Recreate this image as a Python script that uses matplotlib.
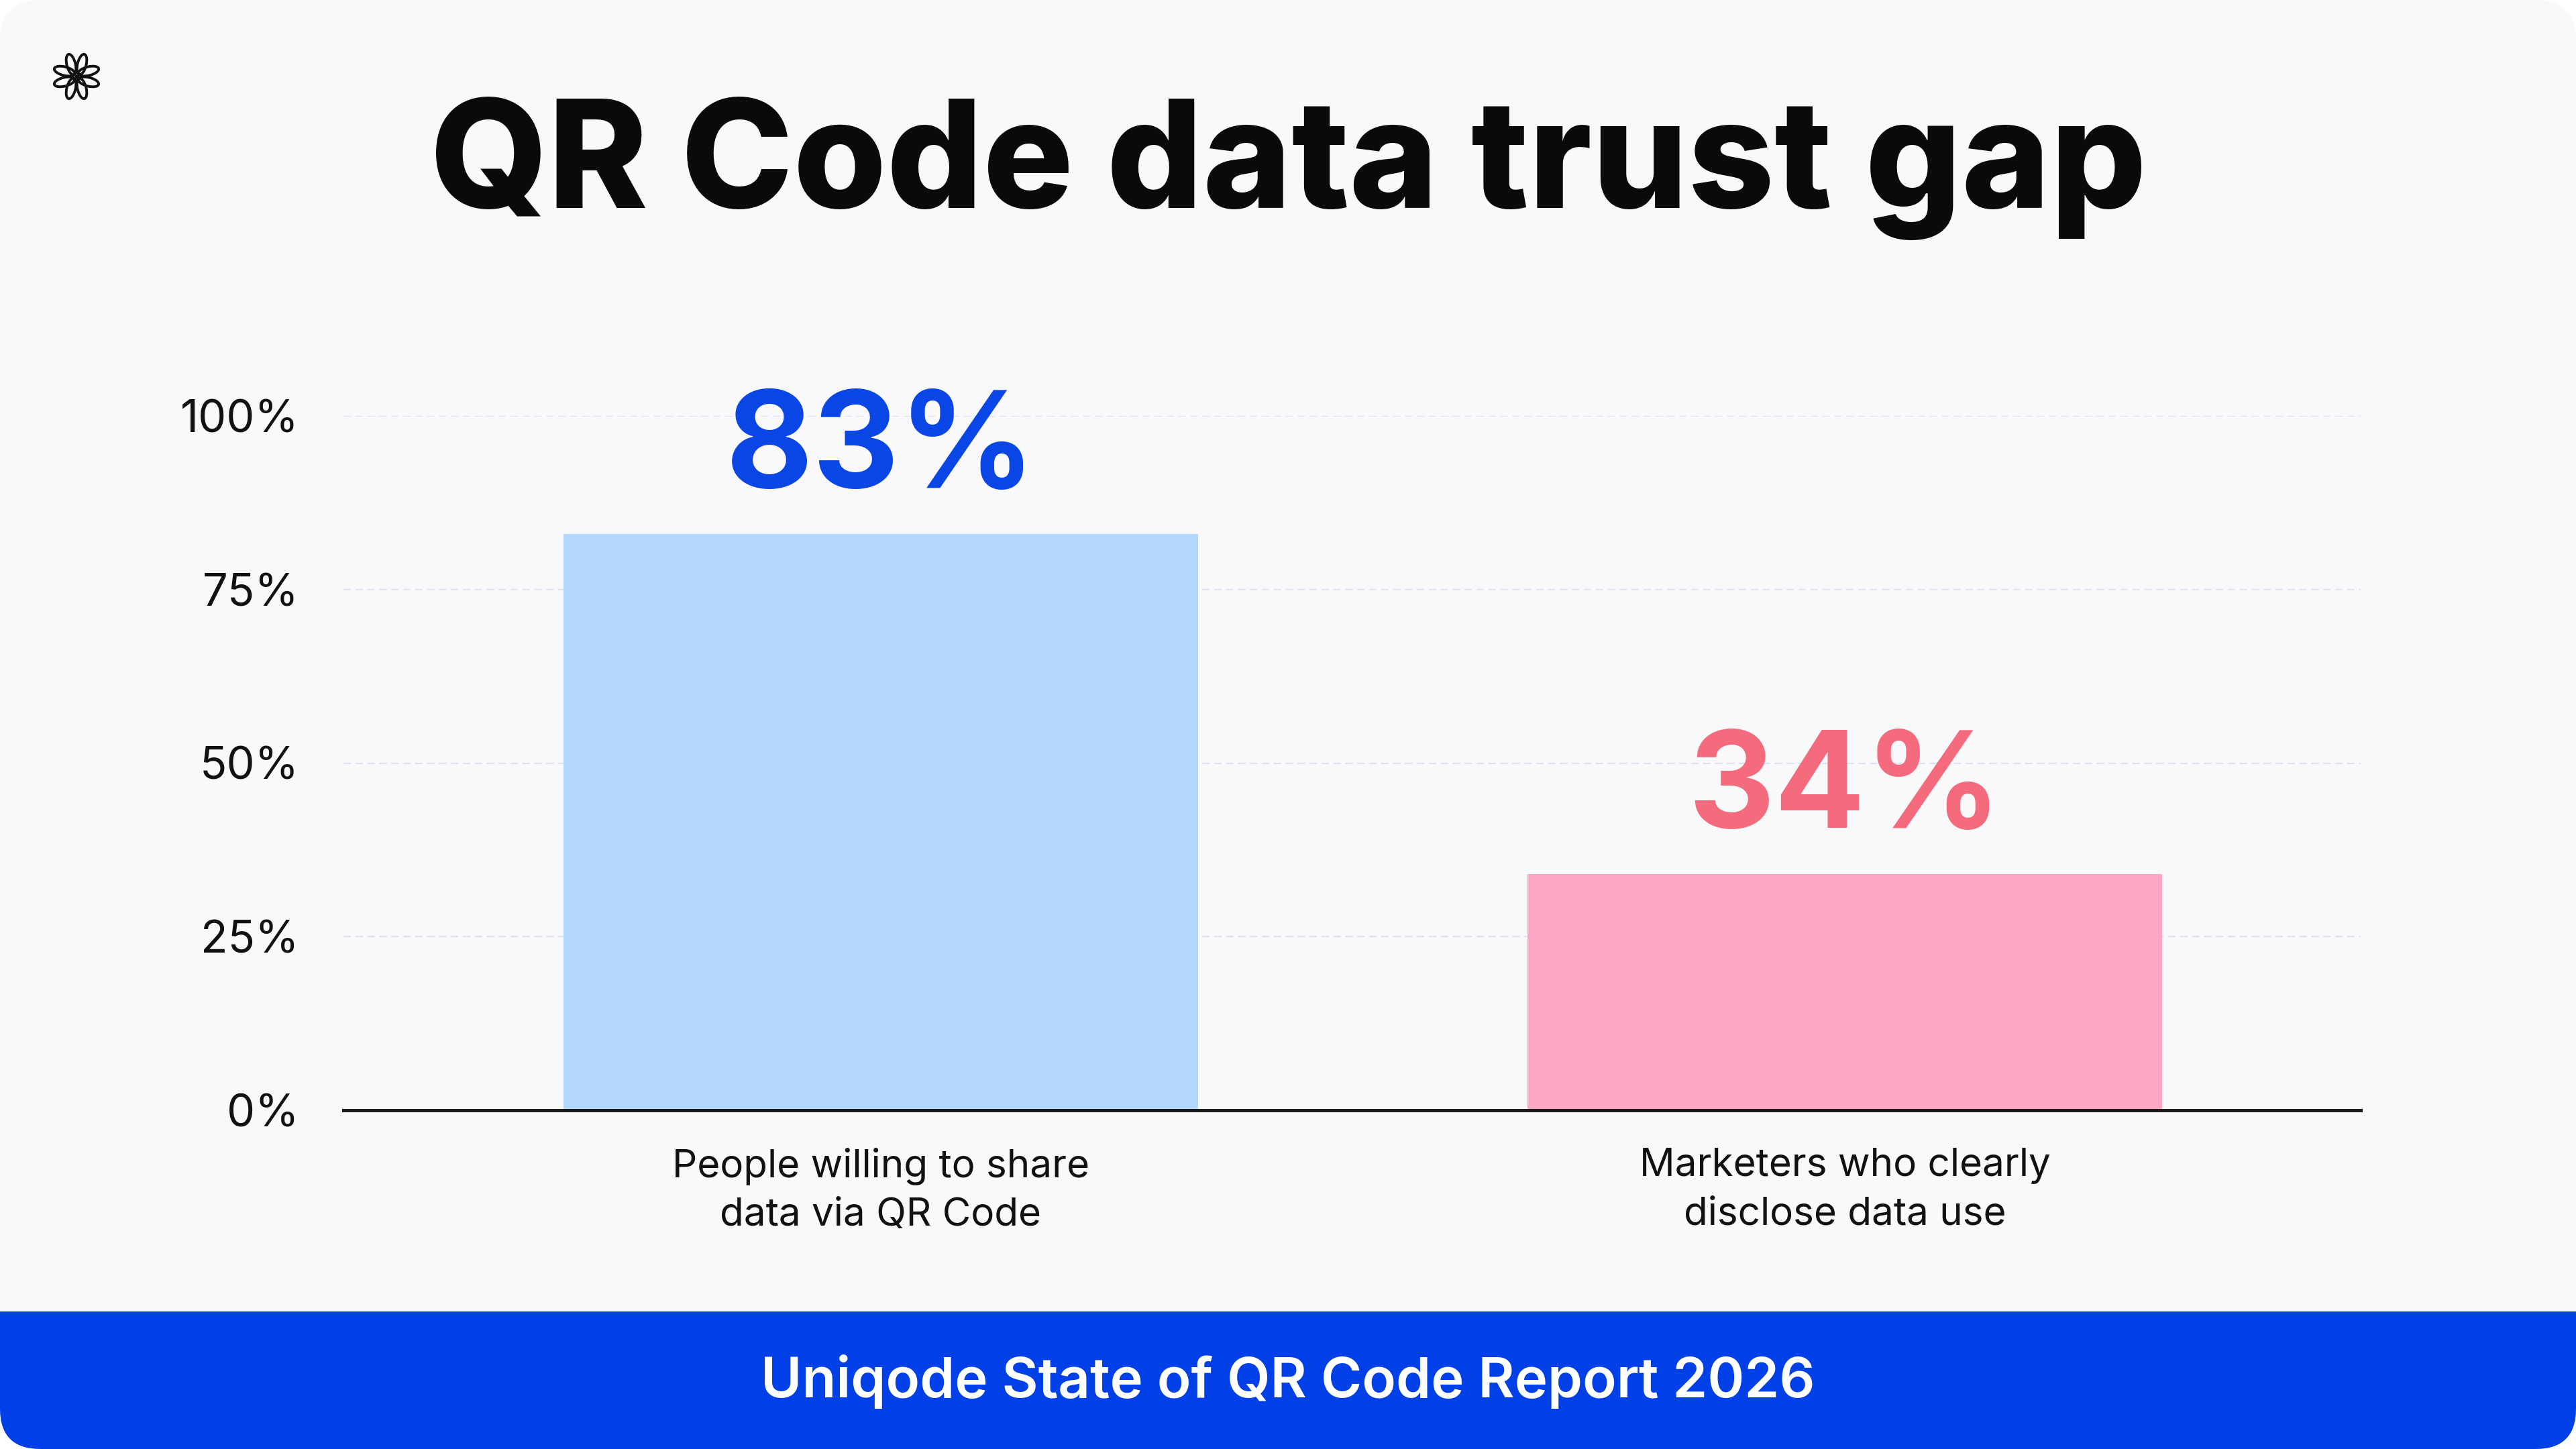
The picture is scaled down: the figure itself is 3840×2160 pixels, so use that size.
import math
import matplotlib
matplotlib.use("Agg")
import matplotlib.pyplot as plt
from matplotlib.patches import FancyBboxPatch, Rectangle, Ellipse

# data
categories = ["People willing to share\ndata via QR Code",
              "Marketers who clearly\ndisclose data use"]
values = [83, 34]
bar_colors = ["#b3d6fb", "#fca6c5"]
label_colors = ["#0a45e5", "#f56b7e"]
yticks = [0, 25, 50, 75, 100]
ytick_labels = ["0%", "25%", "50%", "75%", "100%"]
title = "QR Code data trust gap"
footer = "Uniqode State of QR Code Report 2026"

card = "#f9f9fb"
blue = "#0040e6"

plt.rcParams["font.family"] = ["Inter", "DejaVu Sans"]

W, H = 3840, 2160
fig = plt.figure(figsize=(19.2, 10.8), dpi=200, facecolor="white")

# background card + footer band
bg = fig.add_axes([0, 0, 1, 1], zorder=-5)
bg.set_xlim(0, W)
bg.set_ylim(0, H)
bg.axis("off")
bg.add_patch(FancyBboxPatch((0, 0), W, H, boxstyle="round,pad=0,rounding_size=60",
                            fc=card, ec="none"))
bg.add_patch(FancyBboxPatch((0, 0), W, 290, boxstyle="round,pad=0,rounding_size=60",
                            fc=blue, ec="none"))
bg.add_patch(Rectangle((0, 205), W, 120, fc=card, ec="none"))

fig.text(0.5, 1 - 310 / H, title, ha="center", va="baseline",
         fontsize=81, fontweight="heavy", color="#0a0a0a")
fig.text(0.5, 77 / H, footer, ha="center", va="baseline",
         fontsize=30, fontweight="semibold", color="white")

# logo
lg = fig.add_axes([(114 - 45) / W, 1 - (114 + 45) / H, 90 / W, 90 / H])
lg.set_xlim(-45, 45)
lg.set_ylim(-45, 45)
lg.set_aspect("equal")
lg.axis("off")
for rot in [0, 90, 180, 270]:
    for side in [-1, 1]:
        cx, cy, ang = side * 8, 18, -side * 14
        r = math.radians(rot)
        px = cx * math.cos(r) - cy * math.sin(r)
        py = cx * math.sin(r) + cy * math.cos(r)
        lg.add_patch(Ellipse((px, py), 13, 31, angle=ang + rot, fc="none",
                             ec="#111111", lw=1.4))
lg.plot([0], [0], marker="s", ms=1.5, color="#111111")

# main chart
ax = fig.add_axes([512 / W, 1 - 1655 / H, (3519 - 512) / W, (1655 - 620) / H])
ax.set_facecolor("none")
x = [0, 1]
ax.bar(x, values, width=0.658, color=bar_colors, zorder=2)
ax.set_xlim(-0.557, 1.535)
ax.set_ylim(0, 100)
for yv in yticks[1:]:
    ax.axhline(yv, color="#dce3ef", lw=0.8, ls=(0, (5, 3)), zorder=1)
for xi, v, c in zip(x, values, label_colors):
    ax.annotate(f"{v}%", (xi, v), xytext=(0, 25), textcoords="offset points",
                ha="center", va="baseline", fontsize=72, fontweight="bold", color=c)

ax.set_yticks(yticks)
ax.set_yticklabels(ytick_labels, fontsize=24, color="#111111")
ax.set_xticks(x)
ax.set_xticklabels(categories, fontsize=21, color="#111111", linespacing=1.45)
ax.tick_params(axis="y", length=0, pad=24)
ax.tick_params(axis="x", length=0, pad=20)
for s in ["top", "right", "left"]:
    ax.spines[s].set_visible(False)
ax.spines["bottom"].set_linewidth(1.8)
ax.spines["bottom"].set_color("#1a1a1a")
ax.spines["bottom"].set_zorder(3)

fig.savefig("out.png", dpi=200, facecolor="white")
